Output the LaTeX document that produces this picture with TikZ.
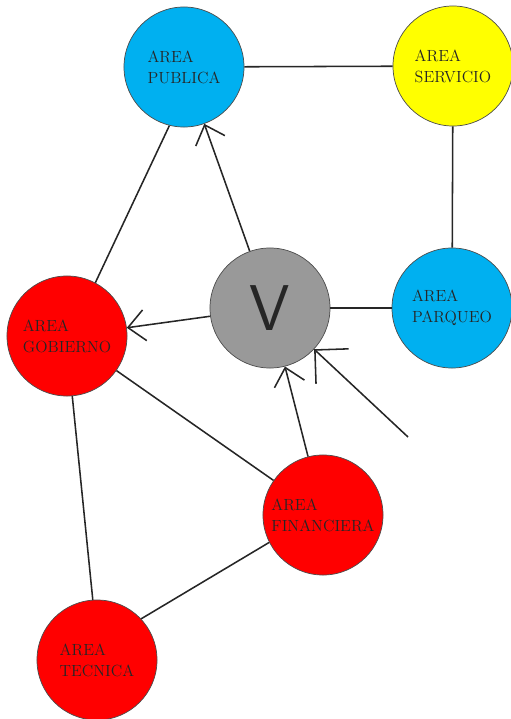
\documentclass[tikz,border=0pt]{standalone}
\usetikzlibrary{arrows.meta}
\definecolor{areablue}{HTML}{00B0F0}
\definecolor{areared}{HTML}{FF0000}
\definecolor{areayellow}{HTML}{FFFF00}
\definecolor{areagray}{HTML}{999999}
\begin{document}
\begin{tikzpicture}[x=0.025cm,y=-0.025cm,
        area/.style={circle,draw=black!70,line width=0.5pt,minimum size=3cm,inner sep=0pt,
            align=left,text=black!85,font=\fontsize{11.5}{15}\selectfont},
        link/.style={line width=1.1pt,draw=black!85},
        arr/.style={link,-{Straight Barb[length=12pt,width=22pt]}},
        bigarr/.style={link,-{Straight Barb[length=17pt,width=34pt]}}]
    \useasboundingbox (0,0) rectangle (511,719);
    \node[area,fill=areablue] (publica) at (184,67) {AREA\\PUBLICA};
    \node[area,fill=areayellow] (servicio) at (453,66) {AREA\\SERVICIO};
    \node[area,fill=areablue] (parqueo) at (452,308) {AREA\\PARQUEO};
    \node[area,fill=areagray,font=\sffamily\fontsize{46}{46}\selectfont] (v) at (270,308) {V};
    \node[area,fill=areared] (gobierno) at (67,336) {AREA\\GOBIERNO};
    \node[area,fill=areared] (financiera) at (323,515) {AREA\\FINANCIERA};
    \node[area,fill=areared] (tecnica) at (97,660) {AREA\\TECNICA};
    \coordinate (flujo) at (408,437);
    \draw[link] (publica) -- (servicio);
    \draw[link] (servicio) -- (parqueo);
    \draw[link] (parqueo) -- (v);
    \draw[arr] (v) -- (publica);
    \draw[arr] (v) -- (gobierno);
    \draw[link] (publica.256) -- (gobierno.62);
    \draw[link] (gobierno) -- (financiera);
    \draw[link] (gobierno.275) -- (tecnica.94);
    \draw[link] (financiera.207) -- (tecnica.43);
    \draw[arr] (financiera) -- (v);
    \draw[bigarr] (flujo) -- (v);
\end{tikzpicture}
\end{document}
